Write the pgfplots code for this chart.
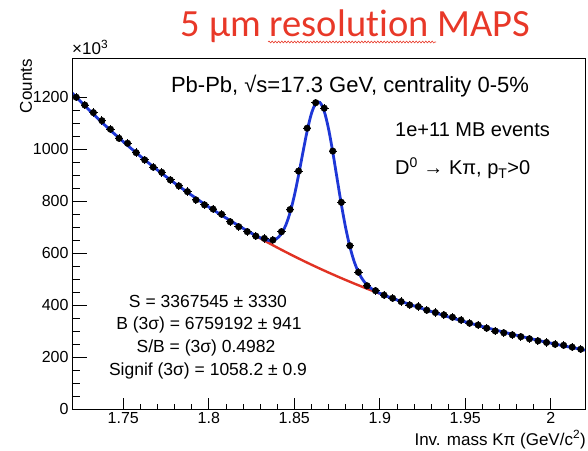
\documentclass[border=0pt]{standalone}
\usepackage{fontspec}
\usepackage{pgfplots}
\usepackage{pgfplotstable}
\pgfplotsset{compat=1.18}
\usetikzlibrary{decorations.pathmorphing}
\setmainfont{Liberation Sans}
\newfontfamily\titlefont[Ligatures=NoCommon]{Carlito}

\definecolor{fitblue}{RGB}{30,55,215}
\definecolor{bkgred}{RGB}{225,50,35}
\definecolor{titlered}{RGB}{232,56,40}

\newcommand\ticklab{\fontsize{16}{16}\selectfont}

% D0 -> K pi invariant mass, counts in units of 10^3
\pgfplotstableread{
x y
1.7225 1199
1.7275 1169
1.7325 1140
1.7375 1109
1.7425 1076
1.7475 1041
1.7525 1022
1.7575 986
1.7625 958
1.7675 930
1.7725 910
1.7775 881
1.7825 858
1.7875 836
1.7925 804
1.7975 785
1.8025 769
1.8075 749
1.8125 720
1.8175 701
1.8225 682
1.8275 665
1.8325 656
1.8375 650
1.8425 682
1.8475 767
1.8525 915
1.8575 1080
1.8625 1178
1.8675 1157
1.8725 992
1.8775 795
1.8825 628
1.8875 526
1.8925 474
1.8975 455
1.9025 438
1.9075 426
1.9125 413
1.9175 400
1.9225 394
1.9275 380
1.9325 371
1.9375 362
1.9425 353
1.9475 342
1.9525 330
1.9575 323
1.9625 311
1.9675 300
1.9725 293
1.9775 285
1.9825 278
1.9875 270
1.9925 262
1.9975 256
2.0025 249
2.0075 245
2.0125 238
2.0175 230
}\datatab

\begin{document}
\begin{tikzpicture}
\useasboundingbox (-72pt,-41pt) rectangle (516pt,409pt);

\begin{axis}[
    at={(0,0)}, anchor=south west,
    scale only axis, width=513pt, height=351pt,
    xmin=1.72, xmax=2.02, ymin=0, ymax=1350,
    axis line style={line width=0.8pt},
    xtick={1.75,1.8,1.85,1.9,1.95,2},
    xticklabels={1.75,1.8,1.85,1.9,1.95,2},
    minor x tick num=4,
    ytick=\empty,
    xtick pos=bottom, tick align=inside,
    major tick length=11pt, minor tick length=5.5pt,
    tick style={line width=0.8pt, black},
    xticklabel style={font=\ticklab},
    scaled ticks=false,
]
% data points
\addplot[only marks, mark=*, mark size=3.3pt, black,
    error bars/.cd, x dir=both, x fixed=0.0025, y dir=both, y fixed=16,
    error mark=none, error bar style={line width=1pt, black}]
    table {\datatab};

% background only
\addplot[bkgred, line width=2.4pt] coordinates {
(1.825,675.4) (1.83,656.7) (1.835,638.6) (1.84,620.9) (1.845,603.8)
(1.85,587.1) (1.855,570.9) (1.86,555.1) (1.865,539.8) (1.87,524.9)
(1.875,510.4) (1.88,496.3) (1.885,482.6) (1.89,469.3) (1.895,456.3)
(1.90,443.7)
};

% total fit
\addplot[fitblue, line width=2.8pt, smooth] coordinates {
(1.72,1216) (1.73,1150) (1.74,1087) (1.75,1028) (1.76,972) (1.77,919)
(1.78,869) (1.79,822) (1.80,777) (1.81,735) (1.82,695) (1.825,675.8)
(1.83,658.8) (1.8325,652.3) (1.835,648.4) (1.8375,649.0) (1.84,656.6)
(1.8425,674.8) (1.845,706.7) (1.8475,755.0) (1.85,820.1) (1.8525,899.3)
(1.855,985.7) (1.8575,1068.6) (1.86,1135.8) (1.8625,1175.2) (1.865,1179.0)
(1.8675,1145.2) (1.87,1078.3) (1.8725,988.1) (1.875,887.2) (1.8775,787.4)
(1.88,698.0) (1.8825,624.3) (1.885,567.5) (1.8875,526.3) (1.89,497.4)
(1.8925,477.6) (1.895,463.6) (1.8975,453.4) (1.90,445.2) (1.905,431.6)
(1.91,419.5) (1.92,396.7) (1.93,375.1) (1.94,354.6) (1.95,335.3)
(1.96,317.1) (1.97,299.8) (1.98,283.5) (1.99,268.0) (2.00,253.4)
(2.01,239.6) (2.02,226.6)
};
\end{axis}

% second axis only for the longer y ticks
\begin{axis}[
    at={(0,0)}, anchor=south west,
    scale only axis, width=513pt, height=351pt,
    xmin=1.72, xmax=2.02, ymin=0, ymax=1350,
    axis line style={line width=0.8pt},
    xtick=\empty,
    ytick={0,200,400,600,800,1000,1200},
    yticklabels={0,200,400,600,800,1000,1200},
    minor y tick num=3,
    ytick pos=left, tick align=inside,
    major tick length=15pt, minor tick length=7.5pt,
    tick style={line width=0.8pt, black},
    yticklabel style={font=\ticklab},
    scaled ticks=false,
]
\end{axis}

% titles and labels
\node[anchor=base, text=titlered, font=\titlefont\fontsize{38.5}{38.5}\selectfont]
    at (283.5pt,372pt) {5 μm resolution MAPS};
\draw[titlered, line width=0.6pt, decorate,
    decoration={snake, amplitude=0.9pt, segment length=3.2pt}]
    (196pt,367pt) -- (364pt,367pt);

\node[anchor=base west, inner sep=0, font=\fontsize{17}{17}\selectfont]
    at (0pt,354pt) {×10\textsuperscript{3}};
\node[rotate=90, anchor=east, inner sep=0, font=\fontsize{17}{17}\selectfont]
    at (-46pt,350pt) {Counts};
\node[anchor=base east, inner sep=0, font=\fontsize{17}{17}\selectfont]
    at (514pt,-36pt) {Inv. mass Kπ (GeV/c\textsuperscript{2})};

% annotations
\node[anchor=base, inner sep=0, font=\fontsize{22}{22}\selectfont]
    at (278pt,316pt) {Pb-Pb, √s=17.3 GeV, centrality 0-5\%};
\node[anchor=base west, inner sep=0, font=\fontsize{20}{20}\selectfont]
    at (323pt,272pt) {1e+11 MB events};
\node[anchor=base west, inner sep=0, font=\fontsize{20}{20}\selectfont]
    at (323pt,234pt) {D\textsuperscript{0} → Kπ, p\textsubscript{T}>0};

\begin{scope}[every node/.style={anchor=base, inner sep=0, font=\fontsize{17.5}{17.5}\selectfont}]
\node at (136pt,102pt) {S = 3367545 ± 3330};
\node at (137pt,80pt) {B (3σ) = 6759192 ± 941};
\node at (134pt,57pt) {S/B = (3σ) 0.4982};
\node at (136pt,34pt) {Signif (3σ) = 1058.2 ± 0.9};
\end{scope}
\end{tikzpicture}
\end{document}
